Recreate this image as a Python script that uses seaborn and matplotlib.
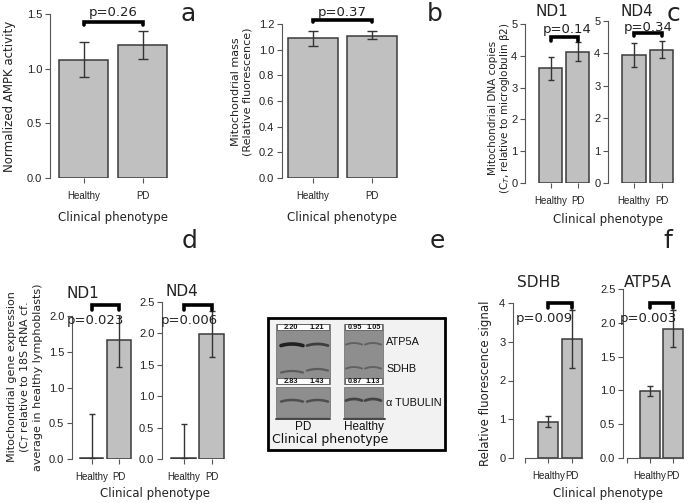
import numpy as np
import pandas as pd
import matplotlib
matplotlib.use("Agg")
import matplotlib.pyplot as plt
import seaborn as sns
from matplotlib.patches import Rectangle

# ---------------- data ----------------
groups = ["Healthy", "PD"]

a_mean = [1.08, 1.22]
a_low = [0.92, 1.09]
a_high = [1.245, 1.345]
a_p = "p=0.26"

b_mean = [1.088, 1.11]
b_low = [1.03, 1.08]
b_high = [1.147, 1.145]
b_p = "p=0.37"

c_nd1_mean = [3.61, 4.13]
c_nd1_low = [3.24, 3.84]
c_nd1_high = [3.97, 4.42]
c_nd1_p = "p=0.14"
c_nd4_mean = [3.95, 4.11]
c_nd4_low = [3.59, 3.87]
c_nd4_high = [4.31, 4.39]
c_nd4_p = "p=0.34"

d_nd1_mean = [0.01, 1.67]
d_nd1_low = [0.01, 1.28]
d_nd1_high = [0.63, 2.05]
d_nd1_p = "p=0.023"
d_nd4_mean = [0.01, 1.99]
d_nd4_low = [0.01, 1.62]
d_nd4_high = [0.55, 2.36]
d_nd4_p = "p=0.006"

f_sdhb_mean = [0.94, 3.08]
f_sdhb_low = [0.79, 2.32]
f_sdhb_high = [1.09, 3.82]
f_sdhb_p = "p=0.009"
f_atp_mean = [0.99, 1.91]
f_atp_low = [0.917, 1.64]
f_atp_high = [1.065, 2.19]
f_atp_p = "p=0.003"

blot_pd_top = ["2.20", "1.21"]
blot_pd_bottom = ["2.83", "1.43"]
blot_h_top = ["0.95", "1.05"]
blot_h_bottom = ["0.87", "1.13"]
blot_proteins = ["ATP5A", "SDHB", "\u03b1 TUBULIN"]
blot_groups = ["PD", "Healthy"]

# ---------------- style ----------------
sns.set_style("ticks")
plt.rcParams["font.family"] = ["Liberation Sans", "DejaVu Sans"]
plt.rcParams["axes.linewidth"] = 0.8

W, H = 689, 503
fig = plt.figure(figsize=(W / 100, H / 100), dpi=100)

BAR = "#c0c0c0"
EDGE = "#3a3a3a"
ERR = "#333333"
TXT = "#222222"


def make_ax(spine_x, c0, c1, ytop, ybot, ymax, right, ncat=2):
    s = (c1 - c0)
    rect = [spine_x / W, 1 - ybot / H, (right - spine_x) / W, (ybot - ytop) / H]
    ax = fig.add_axes(rect)
    xl = ((spine_x - c0) / s, (right - c0) / s)
    return ax, xl


def panel(ax, xl, mean, low, high, ymax, yticks, ylabels, order, width,
          capsize, pval, p_xy, br_y, br_drop, title=None, title_xy=None,
          show_bottom=False, br_x=None, ptext_size=9.5):
    df = pd.DataFrame({"group": groups, "value": mean})
    sns.barplot(data=df, x="group", y="value", order=order, color=BAR,
                edgecolor=EDGE, linewidth=1.1, width=width, errorbar=None,
                ax=ax, saturation=1)
    pos = [order.index(g) for g in groups]
    m = np.array(mean)
    yerr = [m - np.array(low), np.array(high) - m]
    ax.errorbar(pos, m, yerr=yerr, fmt="none", ecolor=ERR, elinewidth=1.0,
                capsize=capsize, capthick=1.0, zorder=5)
    ax.set_xlim(*xl)
    ax.set_ylim(0, ymax)
    ax.set_yticks(yticks)
    ax.set_yticklabels(ylabels, fontsize=8, color=TXT)
    ax.set_xticks(range(len(order)))
    ax.set_xticklabels(order, fontsize=7, color=TXT)
    ax.tick_params(axis="both", direction="out", length=3.5, width=0.8,
                   color="#555555", pad=2)
    ax.tick_params(axis="x", pad=6)
    ax.set_xlabel("")
    ax.set_ylabel("")
    ax.set_facecolor("none")
    for sp in ["top", "right"]:
        ax.spines[sp].set_visible(False)
    ax.spines["left"].set_color("#555555")
    if show_bottom:
        ax.spines["bottom"].set_color("#555555")
        ax.spines["bottom"].set_bounds(0, 2.42)
    else:
        ax.spines["bottom"].set_visible(False)
    bx = br_x if br_x is not None else pos
    ax.plot([bx[0], bx[0], bx[1], bx[1]],
            [br_y - br_drop, br_y, br_y, br_y - br_drop],
            color="black", lw=2.6, clip_on=False, solid_joinstyle="miter",
            zorder=6)
    ax.text(p_xy[0], p_xy[1], pval, ha="center", va="center",
            fontsize=ptext_size, color=TXT, clip_on=False,
            family=["DejaVu Sans"], zorder=7)
    if title:
        ax.text(title_xy[0], title_xy[1], title, ha="center", va="center",
                fontsize=11, color=TXT, clip_on=False, family=["DejaVu Sans"])


def ftext(x, y, s, size=8.5, rot=0, ha="center", ls=1.15, **kw):
    fig.text(x / W, 1 - y / H, s, fontsize=size, rotation=rot, ha=ha,
             va="center", color=TXT, family=["DejaVu Sans"],
             linespacing=ls, **kw)


# ---------------- panel a ----------------
ax, xl = make_ax(50, 83.5, 142.5, 14, 178, 1.5, 172)
panel(ax, xl, a_mean, a_low, a_high, 1.5, [0, 0.5, 1.0, 1.5],
      ["0.0", "0.5", "1.0", "1.5"], groups, 0.83, 3.6, a_p, (0.5, 1.51),
      1.43, 0.03)
ftext(10, 96, "Normalized AMPK activity", size=8.5, rot=90)
ftext(113, 217, "Clinical phenotype", size=8.5)
ftext(188, 14, "a", size=18)

# ---------------- panel b ----------------
ax, xl = make_ax(282, 313, 372, 24, 178, 1.2, 400)
panel(ax, xl, b_mean, b_low, b_high, 1.2, [0, 0.2, 0.4, 0.6, 0.8, 1.0, 1.2],
      ["0.0", "0.2", "0.4", "0.6", "0.8", "1.0", "1.2"], groups, 0.85, 3.6,
      b_p, (0.5, 1.29), 1.232, 0.02)
ftext(242, 92, "Mitochondrial mass\n(Relative fluorescence)", size=8.0, rot=90)
ftext(342, 217, "Clinical phenotype", size=8.5)
ftext(435, 14, "b", size=18)

# ---------------- panel c ----------------
ax, xl = make_ax(525, 550.5, 577.5, 24, 183, 5, 592)
panel(ax, xl, c_nd1_mean, c_nd1_low, c_nd1_high, 5, [0, 1, 2, 3, 4, 5],
      ["0", "1", "2", "3", "4", "5"], groups, 0.85, 2.2, c_nd1_p,
      (0.6, 4.84), 4.59, 0.13, "ND1", (0.05, 5.38))
ax, xl = make_ax(608, 634, 661.5, 21, 183, 5, 676)
panel(ax, xl, c_nd4_mean, c_nd4_low, c_nd4_high, 5, [0, 1, 2, 3, 4, 5],
      ["0", "1", "2", "3", "4", "5"], groups, 0.85, 2.2, c_nd4_p,
      (0.5, 4.81), 4.63, 0.1, "ND4", (0.1, 5.28))
ftext(500, 108, "Mitochondrial DNA copies\n(C$_T$, relative to microglobulin \u03b22)",
      size=7.5, rot=90, ls=1.05)
ftext(608, 219, "Clinical phenotype", size=8.5)
ftext(673, 14, "c", size=18)

# ---------------- panel d ----------------
ax, xl = make_ax(72, 91.5, 119, 316, 459, 2.0, 134)
panel(ax, xl, d_nd1_mean, d_nd1_low, d_nd1_high, 2.0, [0, 0.5, 1.0, 1.5, 2.0],
      ["0.0", "0.5", "1.0", "1.5", "2.0"], groups, 0.87, 2.2, d_nd1_p,
      (0.15, 1.94), 2.15, 0.06, "ND1", (-0.31, 2.32))
ax, xl = make_ax(162, 183.5, 211.5, 302, 459, 2.5, 226)
panel(ax, xl, d_nd4_mean, d_nd4_low, d_nd4_high, 2.5,
      [0, 0.5, 1.0, 1.5, 2.0, 2.5], ["0.0", "0.5", "1.0", "1.5", "2.0", "2.5"],
      groups, 0.9, 2.2, d_nd4_p, (0.2, 2.21), 2.45, 0.07, "ND4", (-0.05, 2.66))
ftext(25, 377, "Mitochondrial gene expression\n(C$_T$ relative to 18S rRNA cf.\n"
      "average in healthy lymphoblasts)", size=8.0, rot=90)
ftext(155, 494, "Clinical phenotype", size=8.5)
ftext(190, 241, "d", size=18)

# ---------------- panel f ----------------
order_f = ["", "Healthy", "PD"]
ax, xl = make_ax(513, 524.5, 548.25, 303, 458, 4, 585)
panel(ax, xl, f_sdhb_mean, f_sdhb_low, f_sdhb_high, 4, [0, 1, 2, 3, 4],
      ["0", "1", "2", "3", "4"], order_f, 0.85, 2.2, f_sdhb_p, (0.83, 3.59),
      4.0, 0.13, "SDHB", (0.61, 4.52), show_bottom=True)
ax, xl = make_ax(623, 627, 650, 289, 458, 2.5, 686)
panel(ax, xl, f_atp_mean, f_atp_low, f_atp_high, 2.5,
      [0, 0.5, 1.0, 1.5, 2.0, 2.5], ["0.0", "0.5", "1.0", "1.5", "2.0", "2.5"],
      order_f, 0.85, 2.2, f_atp_p, (0.91, 2.06), 2.29, 0.07, "ATP5A",
      (0.91, 2.59), show_bottom=True)
ftext(485, 383, "Relative fluorescence signal", size=8.5, rot=90)
ftext(608, 494, "Clinical phenotype", size=8.5)
ftext(668, 241, "f", size=18)

# ---------------- panel e (western blot picture) ----------------
ae = fig.add_axes([0, 0, 1, 1], zorder=-1)
ae.set_xlim(0, W)
ae.set_ylim(H, 0)
ae.axis("off")
ae.add_patch(Rectangle((268, 318), 177, 132, facecolor="#f2f2f2",
                       edgecolor="black", lw=2.0))


def blot(x0, x1, y0, y1):
    ae.add_patch(Rectangle((x0, y0), x1 - x0, y1 - y0, facecolor="#8e8e8e",
                           edgecolor="#777777", lw=0.6))


def strip(x0, x1, y, labels):
    ae.add_patch(Rectangle((x0 + 1, y), x1 - x0 - 2, 6, facecolor="white",
                           edgecolor="#444444", lw=0.5))
    ae.text(x0 + (x1 - x0) * 0.27, y + 3.2, labels[0], fontsize=5.3,
            ha="center", va="center", weight="bold", color="#111111")
    ae.text(x0 + (x1 - x0) * 0.75, y + 3.2, labels[1], fontsize=5.3,
            ha="center", va="center", weight="bold", color="#111111")


def band(xa, xb, y, lw, color, alpha):
    xs = np.linspace(xa, xb, 20)
    ys = y + 1.6 * ((xs - (xa + xb) / 2) / ((xb - xa) / 2)) ** 2
    ae.plot(xs, ys, color=color, lw=lw, alpha=alpha, solid_capstyle="round")


# PD blots
blot(276, 330, 324, 384)
blot(276, 330, 387, 417)
# Healthy blots
blot(344, 383, 324, 384)
blot(344, 383, 387, 417)
band(281, 303, 344, 2.6, "#1a1a1a", 0.95)
band(307, 328, 344, 2.0, "#2a2a2a", 0.8)
band(281, 303, 371, 1.6, "#3a3a3a", 0.6)
band(307, 328, 369, 1.6, "#3a3a3a", 0.6)
band(346, 362, 343, 1.4, "#444444", 0.6)
band(365, 381, 343, 1.4, "#444444", 0.6)
band(346, 362, 367, 1.4, "#444444", 0.6)
band(365, 381, 367, 1.4, "#444444", 0.6)
band(281, 303, 400, 1.8, "#333333", 0.7)
band(307, 328, 400, 1.8, "#333333", 0.7)
band(346, 362, 399, 2.0, "#2a2a2a", 0.75)
band(365, 381, 399, 2.0, "#2a2a2a", 0.75)
strip(276, 330, 324, blot_pd_top)
strip(276, 330, 378, blot_pd_bottom)
strip(344, 383, 324, blot_h_top)
strip(344, 383, 378, blot_h_bottom)
for yy, name in zip([342, 369, 403], blot_proteins):
    ae.text(386, yy, name, fontsize=7.8, ha="left", va="center", color="#111111")
ae.plot([276, 330], [418.5, 418.5], color="#444444", lw=1.4)
ae.plot([344, 385], [418.5, 418.5], color="#444444", lw=1.4)
ae.text(303, 427, blot_groups[0], fontsize=8.5, ha="center", va="center",
        color="#111111")
ae.text(364, 427, blot_groups[1], fontsize=8.5, ha="center", va="center",
        color="#111111")
ae.text(330, 439, "Clinical phenotype", fontsize=9, ha="center", va="center",
        color="#111111", family=["DejaVu Sans"])
ftext(437, 241, "e", size=18)

fig.savefig("out.png", dpi=100)
